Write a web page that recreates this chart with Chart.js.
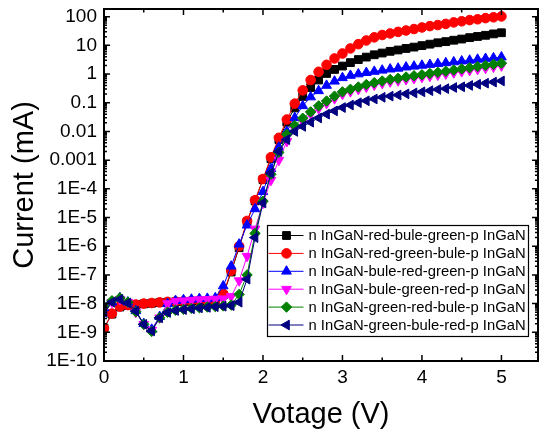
<html>
<head>
<script src="https://cdn.jsdelivr.net/npm/chart.js@4.4.0/dist/chart.umd.min.js"></script>
<style>
  body { margin:0; background:#fff; }
  #ivChart { display:block; }
</style>
</head>
<body>
<canvas id="ivChart" width="540" height="433"></canvas>
<script>
// voltage steps (V)
const voltage = [0,0.1,0.2,0.3,0.4,0.5,0.6,0.7,0.8,0.9,1.0,1.1,1.2,1.3,1.4,1.5,1.6,1.7,1.8,1.9,2.0,
  2.1,2.2,2.3,2.4,2.5,2.6,2.7,2.8,2.9,3.0,3.1,3.2,3.3,3.4,3.5,3.6,3.7,3.8,3.9,4.0,
  4.1,4.2,4.3,4.4,4.5,4.6,4.7,4.8,4.9,5.0];

// current (mA)
const redBlueGreen = [1.4e-9,4.3e-9,7.6e-9,8.7e-9,9.1e-9,9.8e-9,1.03e-8,1.08e-8,1.12e-8,1.15e-8,1.18e-8,
  1.2e-8,1.23e-8,1.24e-8,1.26e-8,2.0e-8,1.26e-7,8.9e-7,7.1e-6,3.8e-5,2.1e-4,
  1.12e-3,5.2e-3,0.021,0.066,0.166,0.34,0.62,1.05,1.45,1.9,
  2.5,3.2,3.9,4.7,5.4,6.2,6.9,7.8,8.7,9.8,
  11,12.3,13.5,15.1,16.6,18.6,20.4,22.4,25.1,27.5];
const redGreenBlue = [1.4e-9,4.5e-9,7.9e-9,8.9e-9,9.3e-9,1.0e-8,1.05e-8,1.1e-8,1.15e-8,1.17e-8,1.2e-8,
  1.23e-8,1.26e-8,1.26e-8,1.29e-8,2.2e-8,1.4e-7,1.0e-6,7.6e-6,4.0e-5,2.2e-4,
  1.26e-3,6.0e-3,0.026,0.093,0.27,0.62,1.2,2.1,3.5,5.2,
  7.8,11,14.8,19,23,26,29.5,33,37,42,
  47,51,56,63,69,76,81,89,95,102];
const blueRedGreen = [7.1e-9,1.12e-8,1.58e-8,1.12e-8,5.6e-9,2.0e-9,1.26e-9,3.5e-9,1.0e-8,1.26e-8,1.35e-8,
  1.41e-8,1.48e-8,1.51e-8,1.58e-8,4.1e-8,2.0e-7,1.17e-6,5.4e-6,2.0e-5,7.9e-5,
  5.0e-4,2.8e-3,0.01,0.030,0.078,0.158,0.26,0.40,0.56,0.74,
  0.89,1.0,1.12,1.23,1.35,1.48,1.58,1.74,1.86,2.0,
  2.14,2.29,2.45,2.63,2.82,3.0,3.24,3.47,3.63,3.9];
const blueGreenRed = [6.3e-9,1.12e-8,1.41e-8,1.12e-8,5.0e-9,1.9e-9,1.2e-9,3.2e-9,1.0e-8,1.2e-8,1.26e-8,
  1.32e-8,1.38e-8,1.41e-8,1.45e-8,1.48e-8,1.78e-8,6.3e-8,4.5e-7,4.0e-6,3.2e-5,
  2.0e-4,1.0e-3,4.5e-3,0.012,0.023,0.040,0.063,0.095,0.14,0.20,
  0.245,0.295,0.355,0.42,0.48,0.54,0.59,0.65,0.71,0.78,
  0.85,0.93,1.02,1.12,1.23,1.35,1.48,1.62,1.78,1.95];
const greenRedBlue = [7.9e-9,1.26e-8,1.58e-8,1.12e-8,5.2e-9,1.9e-9,1.07e-9,3.2e-9,5.0e-9,5.9e-9,6.3e-9,
  6.8e-9,7.2e-9,7.6e-9,7.9e-9,8.3e-9,8.9e-9,2.1e-8,1.0e-7,2.8e-6,3.7e-5,
  3.2e-4,1.86e-3,7.9e-3,0.016,0.029,0.048,0.078,0.115,0.17,0.24,
  0.295,0.355,0.43,0.50,0.575,0.65,0.71,0.79,0.87,0.95,
  1.05,1.15,1.26,1.38,1.51,1.66,1.82,2.0,2.19,2.4];
const greenBlueRed = [5.0e-9,1.12e-8,1.41e-8,1.05e-8,5.5e-9,1.9e-9,1.12e-9,3.2e-9,4.9e-9,5.75e-9,6.2e-9,
  6.6e-9,7.1e-9,7.4e-9,7.8e-9,8.1e-9,8.5e-9,1.12e-8,7.1e-8,2.0e-6,3.2e-5,
  3.5e-4,2.0e-3,5.2e-3,0.01,0.015,0.021,0.0295,0.040,0.052,0.068,
  0.083,0.10,0.117,0.135,0.155,0.17,0.186,0.204,0.22,0.24,
  0.263,0.29,0.31,0.34,0.36,0.40,0.44,0.48,0.525,0.575];

const seriesNames = ['n InGaN-red-bule-green-p InGaN','n InGaN-red-green-bule-p InGaN',
  'n InGaN-bule-red-green-p InGaN','n InGaN-bule-green-red-p InGaN',
  'n InGaN-green-red-bule-p InGaN','n InGaN-green-bule-red-p InGaN'];
const seriesValues = [redBlueGreen, redGreenBlue, blueRedGreen, blueGreenRed, greenRedBlue, greenBlueRed];

const xTicks = [0,1,2,3,4,5];
const xTickLabels = ['0','1','2','3','4','5'];
const yTicks = [1e-10,1e-9,1e-8,1e-7,1e-6,1e-5,1e-4,0.001,0.01,0.1,1,10,100];
const yTickLabels = ['1E-10','1E-9','1E-8','1E-7','1E-6','1E-5','1E-4','0.001','0.01','0.1','1','10','100'];

// styling per series
const colors = ['#000000','#ff0000','#0000ff','#ff00ff','#008000','#000080'];
const styles = ['rect','circle','triangle','triangle','rectRot','triangle'];
const rotations = [0,0,0,180,0,270];
const radii = [5.5,4.8,5.6,5.6,5.2,5.6];

const FONT = "'Liberation Sans', Arial, sans-serif";

const noPad = s => { s.paddingLeft = 0; s.paddingRight = 0; s.paddingTop = 0; s.paddingBottom = 0; };

// inward ticks on all four sides, frame, and x tick labels
const frameTicks = {
  id: 'frameTicks',
  afterDatasetsDraw(chart) {
    const {ctx, chartArea: a, scales: {x, y}} = chart;
    ctx.save();
    ctx.strokeStyle = '#000';
    ctx.lineWidth = 1.5;
    ctx.beginPath();
    const xt = (v, len) => {
      const px = x.getPixelForValue(v);
      ctx.moveTo(px, a.bottom); ctx.lineTo(px, a.bottom - len);
      ctx.moveTo(px, a.top); ctx.lineTo(px, a.top + len);
    };
    xTicks.forEach(v => { xt(v, 6); if (v + 0.5 < x.max) xt(v + 0.5, 3.5); });
    const yt = (v, len) => {
      const py = y.getPixelForValue(v);
      ctx.moveTo(a.left, py); ctx.lineTo(a.left + len, py);
      ctx.moveTo(a.right, py); ctx.lineTo(a.right - len, py);
    };
    yTicks.forEach(v => {
      yt(v, 6);
      for (let k = 2; k <= 9; k++) if (k * v <= y.max) yt(k * v, 3);
    });
    ctx.stroke();
    ctx.lineWidth = 2;
    ctx.strokeRect(a.left, a.top, a.right - a.left, a.bottom - a.top);

    ctx.fillStyle = '#000';
    ctx.font = '19px ' + FONT;
    ctx.textAlign = 'center';
    ctx.textBaseline = 'middle';
    xTicks.forEach((v, i) => ctx.fillText(xTickLabels[i], x.getPixelForValue(v), a.bottom + 17));
    ctx.restore();
  }
};

const boxLegend = {
  id: 'boxLegend',
  afterDraw(chart) {
    const ctx = chart.ctx;
    const bx = 267.5, by = 225.5, bw = 261, bh = 111, rowH = 17.9;
    ctx.save();
    ctx.fillStyle = '#fff';
    ctx.fillRect(bx, by, bw, bh);
    ctx.strokeStyle = '#000';
    ctx.lineWidth = 1.2;
    ctx.strokeRect(bx, by, bw, bh);
    ctx.font = '14.8px ' + FONT;
    ctx.textBaseline = 'middle';
    chart.data.datasets.forEach((ds, i) => {
      const cy = by + 10 + i * rowH;
      ctx.strokeStyle = ds.borderColor;
      ctx.lineWidth = 1;
      ctx.beginPath();
      ctx.moveTo(bx + 1, cy); ctx.lineTo(bx + 36, cy);
      ctx.stroke();
      ctx.fillStyle = ds.pointBackgroundColor;
      Chart.helpers.drawPoint(ctx, {pointStyle: ds.pointStyle, radius: ds.pointRadius,
        rotation: ds.pointRotation, borderWidth: 1}, bx + 19, cy);
      ctx.fillStyle = '#000';
      ctx.fillText(ds.label, bx + 41, cy + 0.5);
    });
    ctx.restore();
  }
};

const datasets = seriesValues.map((vals, i) => ({
  label: seriesNames[i],
  data: voltage.map((v, j) => ({x: v, y: vals[j]})),
  borderColor: colors[i],
  backgroundColor: colors[i],
  pointBackgroundColor: colors[i],
  pointBorderColor: colors[i],
  borderWidth: 1,
  pointBorderWidth: 1,
  pointStyle: styles[i],
  pointRotation: rotations[i],
  pointRadius: radii[i],
  order: seriesValues.length - i
}));

new Chart(document.getElementById('ivChart'), {
  type: 'line',
  data: { datasets },
  plugins: [frameTicks, boxLegend],
  options: {
    responsive: false,
    animation: false,
    devicePixelRatio: 1,
    layout: { autoPadding: false, padding: { top: 9, right: 2, left: 0, bottom: 0 } },
    plugins: { legend: { display: false }, tooltip: { enabled: false } },
    scales: {
      x: {
        type: 'linear', min: 0, max: 5.46,
        grid: { display: false, drawTicks: false },
        border: { display: false },
        afterBuildTicks: s => { s.ticks = xTicks.map(v => ({value: v})); },
        afterFit: s => { s.height = 72; noPad(s); },
        ticks: { display: false },
        title: { display: true, text: 'Votage (V)', color: '#000',
          font: { family: FONT, size: 29 }, padding: { bottom: 1, top: 0 } }
      },
      y: {
        type: 'logarithmic', min: 1e-10, max: 185,
        grid: { display: false, drawTicks: false },
        border: { display: false },
        afterBuildTicks: s => { s.ticks = yTicks.map(v => ({value: v})); },
        afterFit: s => { s.width = 104; noPad(s); },
        ticks: { color: '#000', padding: 7, font: { family: FONT, size: 19 },
          callback: (v, i) => yTickLabels[i] },
        title: { display: true, text: 'Current (mA)', color: '#000',
          font: { family: FONT, size: 29 }, padding: { top: 8, bottom: 0 } }
      }
    }
  }
});
</script>
</body>
</html>
